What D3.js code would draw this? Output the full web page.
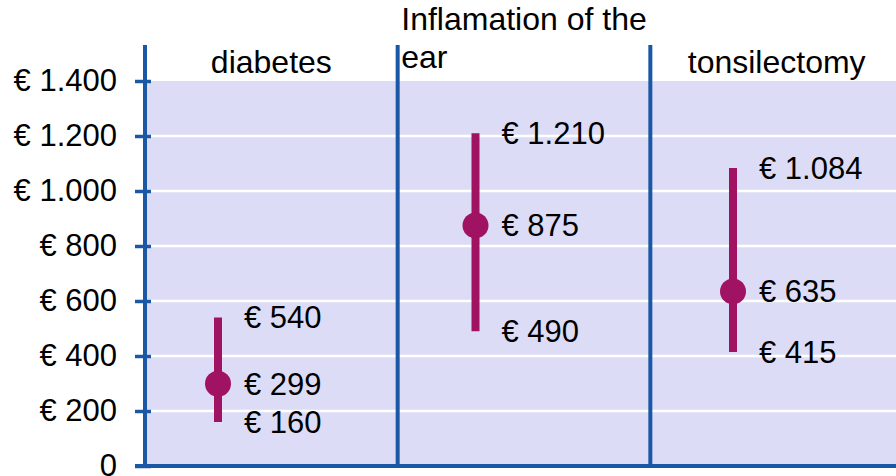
<!DOCTYPE html>
<html>
<head>
<meta charset="utf-8">
<script src="https://cdn.jsdelivr.net/npm/d3@7"></script>
<style>
  body { margin: 0; background: #fff; }
  svg { display: block; font-family: "Liberation Sans", Arial, sans-serif; }
</style>
</head>
<body>
<svg id="chart" width="896" height="476"></svg>
<script>
// data
const categories = ["diabetes", "Inflamation of the ear", "tonsilectomy"];
const categoryLines = [["diabetes"], ["Inflamation of the", "ear"], ["tonsilectomy"]];
const lowValues = [160, 490, 415];
const midValues = [299, 875, 635];
const highValues = [540, 1210, 1084];
const yTicks = [0, 200, 400, 600, 800, 1000, 1200, 1400];

const blue = "#1a58a6";
const magenta = "#a01262";
const lavender = "#dcdcf6";

const svg = d3.select("#chart");
const width = +svg.attr("width");
const margin = {top: 81, left: 145, bottom: 466};

const nl = d3.formatLocale({decimal: ",", thousands: ".", grouping: [3], currency: ["€ ", ""]});
const euro = v => v === 0 ? "0" : nl.format("$,")(v);

const y = d3.scaleLinear()
    .domain([0, 1400])
    .range([margin.bottom, margin.top]);

// categories continue past the right edge, the picture is cut there
const xBand = d3.scaleBand()
    .domain(categories)
    .range([margin.left, 903]);

const xMark = d3.scalePoint()
    .domain(categories)
    .range([218, 733]);

// plot area
svg.append("rect")
    .attr("x", margin.left + 2)
    .attr("y", y(1400))
    .attr("width", width - margin.left - 2)
    .attr("height", y(0) - y(1400))
    .attr("fill", lavender);

svg.append("g")
    .selectAll("line")
    .data(yTicks.filter(d => d > 0 && d < 1400))
    .join("line")
    .attr("x1", margin.left + 2)
    .attr("x2", width)
    .attr("y1", d => y(d))
    .attr("y2", d => y(d))
    .attr("stroke", "#fff")
    .attr("stroke-width", 2.5);

// category dividers
svg.append("g")
    .selectAll("line")
    .data(categories.slice(1))
    .join("line")
    .attr("x1", d => xBand(d))
    .attr("x2", d => xBand(d))
    .attr("y1", 45)
    .attr("y2", margin.bottom)
    .attr("stroke", blue)
    .attr("stroke-width", 4);

// y axis
const yAxis = svg.append("g")
    .attr("transform", "translate(" + (margin.left + 6) + ",0)")
    .call(d3.axisLeft(y).tickValues(yTicks).tickSize(16).tickPadding(18).tickFormat(euro));
yAxis.select(".domain").remove();
yAxis.selectAll(".tick line").attr("stroke", blue).attr("stroke-width", 3.5);
yAxis.selectAll(".tick text")
    .attr("fill", "#000")
    .attr("font-size", 31)
    .attr("font-family", "Liberation Sans, Arial, sans-serif");

svg.append("line")
    .attr("x1", margin.left).attr("x2", margin.left)
    .attr("y1", 45).attr("y2", margin.bottom + 2)
    .attr("stroke", blue)
    .attr("stroke-width", 4);

svg.append("line")
    .attr("x1", 135).attr("x2", width)
    .attr("y1", margin.bottom).attr("y2", margin.bottom)
    .attr("stroke", blue)
    .attr("stroke-width", 4);

// category labels at the top
const catLabels = svg.append("g")
    .attr("font-size", 32)
    .attr("fill", "#000")
    .selectAll("text")
    .data(categories)
    .join("text")
    .attr("y", 30);
catLabels.each(function(d, i) {
    const t = d3.select(this);
    const lines = categoryLines[i];
    const first = lines.length > 1 ? 0 : 43;
    lines.forEach((ln, j) => {
        t.append("tspan").attr("dy", j === 0 ? first : 38).text(ln);
    });
    // center the longest line on the band, keep lines left aligned
    const longest = d3.max(t.selectAll("tspan").nodes(), n => n.getComputedTextLength());
    const x0 = xBand(d) + xBand.bandwidth() / 2 - longest / 2;
    t.selectAll("tspan").attr("x", x0);
});

// whiskers
const marks = svg.append("g");
marks.selectAll("line")
    .data(categories)
    .join("line")
    .attr("x1", d => xMark(d))
    .attr("x2", d => xMark(d))
    .attr("y1", (d, i) => y(lowValues[i]))
    .attr("y2", (d, i) => y(highValues[i]))
    .attr("stroke", magenta)
    .attr("stroke-width", 8);

marks.selectAll("circle")
    .data(categories)
    .join("circle")
    .attr("cx", d => xMark(d))
    .attr("cy", (d, i) => y(midValues[i]))
    .attr("r", 13)
    .attr("fill", magenta);

// value labels
const valueLabels = [];
categories.forEach((c, i) => {
    [lowValues[i], midValues[i], highValues[i]].forEach(v => valueLabels.push({c: c, v: v}));
});
svg.append("g")
    .attr("font-size", 31)
    .attr("fill", "#000")
    .selectAll("text")
    .data(valueLabels)
    .join("text")
    .attr("x", d => xMark(d.c) + 26)
    .attr("y", d => y(d.v))
    .attr("dy", "0.35em")
    .text(d => euro(d.v));
</script>
</body>
</html>
